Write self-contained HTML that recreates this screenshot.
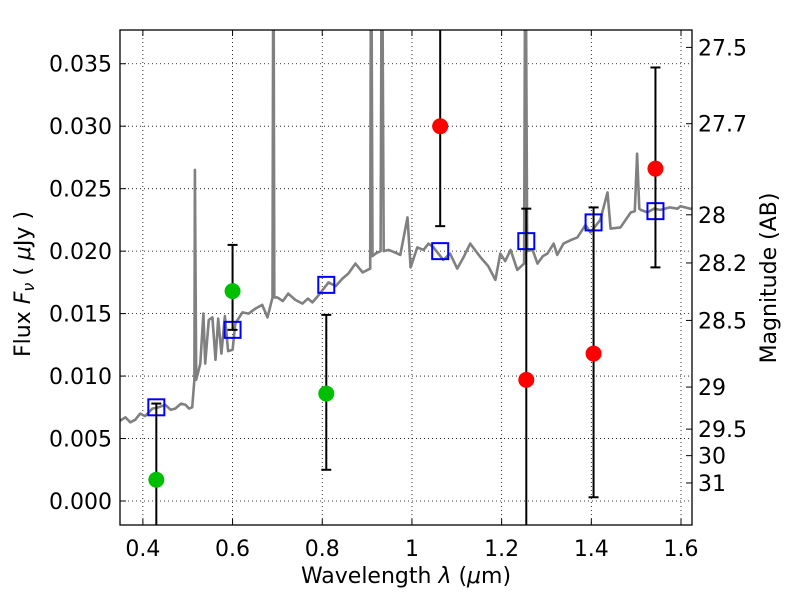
<!DOCTYPE html>
<html><head><meta charset="utf-8"><style>
body{margin:0;background:#fff;}
svg{display:block;font-family:"DejaVu Sans","Liberation Sans",sans-serif;}
</style></head><body>
<svg id="chart" width="800" height="600" viewBox="0 0 800 600" xmlns="http://www.w3.org/2000/svg">
<rect width="800" height="600" fill="#fff"/>
<defs><clipPath id="clip"><rect x="120" y="30" width="572" height="495"/></clipPath></defs>
<g id="grid"></g>
<g id="plot" clip-path="url(#clip)"></g>
<rect x="120" y="30" width="572" height="495" fill="none" stroke="#000" stroke-width="1.3"/>
<g id="ticks"></g>
<text x="406" y="583" font-size="22" text-anchor="middle">Wavelength  <tspan font-style="italic">λ</tspan> (<tspan font-style="italic">μ</tspan>m)</text>
<text transform="translate(30,284) rotate(-90)" font-size="22" text-anchor="middle">Flux  <tspan font-style="italic">F<tspan font-size="16" dy="4">ν</tspan></tspan><tspan dy="-4">   (  </tspan><tspan font-style="italic">μ</tspan>Jy )</text>
<text transform="translate(776,278) rotate(-90)" font-size="22" text-anchor="middle">Magnitude (AB)</text>
</svg>
<script>
const xTicks=[0.4,0.6,0.8,1.0,1.2,1.4,1.6];
const xTickLabels=["0.4","0.6","0.8","1","1.2","1.4","1.6"];
const yTicks=[0,0.005,0.01,0.015,0.02,0.025,0.03,0.035];
const yTickLabels=["0.000","0.005","0.010","0.015","0.020","0.025","0.030","0.035"];
const magTicks=[27.5,27.7,28,28.2,28.5,29,29.5,30,31];
const magTickLabels=["27.5","27.7","28","28.2","28.5","29","29.5","30","31"];
const specWave=[0.339,0.361,0.372,0.383,0.394,0.405,0.421,0.435,0.450,0.462,0.472,0.485,0.495,0.503,0.510,0.515,0.516,0.519,0.528,0.535,0.539,0.547,0.555,0.562,0.568,0.575,0.583,0.590,0.600,0.606,0.622,0.636,0.651,0.666,0.678,0.689,0.691,0.693,0.700,0.712,0.724,0.740,0.756,0.768,0.778,0.790,0.801,0.814,0.830,0.845,0.858,0.874,0.890,0.907,0.909,0.912,0.919,0.930,0.933,0.937,0.948,0.962,0.974,0.990,0.997,1.012,1.026,1.037,1.048,1.070,1.085,1.101,1.115,1.130,1.153,1.170,1.186,1.197,1.208,1.220,1.235,1.250,1.253,1.257,1.269,1.280,1.292,1.302,1.316,1.324,1.338,1.355,1.369,1.387,1.398,1.420,1.436,1.443,1.465,1.488,1.497,1.502,1.507,1.510,1.525,1.540,1.554,1.575,1.592,1.599,1.621,1.64];
const specFlux=[0.0062,0.0067,0.0063,0.0065,0.0070,0.0068,0.0074,0.0075,0.0077,0.0073,0.0074,0.0078,0.0077,0.0074,0.0075,0.0097,0.0265,0.0097,0.0110,0.0150,0.0110,0.0145,0.0147,0.0113,0.0146,0.0118,0.0148,0.0120,0.0121,0.0142,0.0151,0.0150,0.0154,0.0157,0.0147,0.0163,0.05,0.0163,0.0163,0.0160,0.0166,0.0161,0.0158,0.0162,0.0159,0.0164,0.0169,0.0175,0.0172,0.0178,0.0182,0.0190,0.0183,0.0186,0.05,0.0196,0.0198,0.0200,0.05,0.0200,0.0201,0.0199,0.0197,0.0227,0.0187,0.0203,0.0201,0.0206,0.0203,0.0193,0.0198,0.0186,0.0195,0.0206,0.0195,0.0188,0.0177,0.0198,0.0192,0.0201,0.0185,0.0190,0.05,0.0200,0.0201,0.0190,0.0196,0.0198,0.0206,0.0197,0.0206,0.0209,0.0211,0.0221,0.0215,0.0225,0.0247,0.0218,0.0219,0.0231,0.0232,0.0278,0.0234,0.0233,0.0231,0.0234,0.0233,0.0235,0.0234,0.0236,0.0234,0.0234];
const modelWave=[0.430,0.600,0.809,1.063,1.255,1.405,1.543];
const modelFlux=[0.0075,0.0137,0.0173,0.0200,0.0208,0.0223,0.0232];
const greenWave=[0.430,0.600,0.809];
const greenFlux=[0.0017,0.0168,0.0086];
const greenHi=[0.0078,0.0205,0.0149];
const greenLo=[-0.01,0.0137,0.0025];
const redWave=[1.063,1.255,1.405,1.543];
const redFlux=[0.0300,0.0097,0.0118,0.0266];
const redHi=[0.06,0.0234,0.0235,0.0347];
const redLo=[0.0220,-0.01,0.0003,0.0187];

const X0=0.349,X1=1.6245,Y0=-0.00192,Y1=0.0377;
const L=120,R=692,T=30,B=525;
function sx(v){return L+(v-X0)/(X1-X0)*(R-L);}
function sy(v){return B-(v-Y0)/(Y1-Y0)*(B-T);}
function magToFlux(m){return Math.pow(10,(23.9-m)/2.5);}
const NS="http://www.w3.org/2000/svg";
function mk(tag,attrs,parent){const e=document.createElementNS(NS,tag);for(const k in attrs)e.setAttribute(k,attrs[k]);parent.appendChild(e);return e;}
const grid=document.getElementById('grid'),plot=document.getElementById('plot'),ticks=document.getElementById('ticks');

xTicks.forEach((t,i)=>{
  const x=sx(t);
  const g=mk('line',{x1:x,x2:x,y1:T,y2:B,stroke:'#000','stroke-width':0.8,'stroke-dasharray':'1,3'},grid);
  
  
  mk('line',{x1:x,x2:x,y1:B,y2:B-6,stroke:'#000','stroke-width':1},ticks);
  mk('line',{x1:x,x2:x,y1:T,y2:T+6,stroke:'#000','stroke-width':1},ticks);
  const tx=mk('text',{x:x,y:B+31,'font-size':22,'text-anchor':'middle'},ticks);
  tx.textContent=xTickLabels[i];
  
  
});
yTicks.forEach((t,i)=>{
  const y=sy(t);
  const g=mk('line',{x1:L,x2:R,y1:y,y2:y,stroke:'#000','stroke-width':0.8,'stroke-dasharray':'1,3'},grid);
  
  
  mk('line',{x1:L,x2:L+6,y1:y,y2:y,stroke:'#000','stroke-width':1},ticks);
  const tx=mk('text',{x:L-8,y:y+8,'font-size':22,'text-anchor':'end'},ticks);
  tx.textContent=yTickLabels[i];
  
  
});
magTicks.forEach((m,i)=>{
  const y=sy(magToFlux(m));
  mk('line',{x1:R,x2:R-6,y1:y,y2:y,stroke:'#000','stroke-width':1},ticks);
  const tx=mk('text',{x:R+6,y:y+8,'font-size':22,'text-anchor':'start'},ticks);
  tx.textContent=magTickLabels[i];
  
  
});

const pts=specWave.map((w,i)=>sx(w).toFixed(1)+','+sy(specFlux[i]).toFixed(1)).join(' ');
const sp=mk('polyline',{points:pts,fill:'none',stroke:'#808080','stroke-width':2.6,'stroke-linejoin':'round'},plot);



function errbar(w,lo,hi,name){
  const x=sx(w);
  const l=mk('line',{x1:x,x2:x,y1:sy(lo),y2:sy(hi),stroke:'#000','stroke-width':2},plot);
  
  
  [lo,hi].forEach(v=>{if(v>Y0&&v<Y1)mk('line',{x1:x-5,x2:x+5,y1:sy(v),y2:sy(v),stroke:'#000','stroke-width':2},plot);});
}
modelWave.forEach((w,i)=>{
  const r=mk('rect',{x:sx(w)-8,y:sy(modelFlux[i])-8,width:16,height:16,fill:'none',stroke:'#0000ff','stroke-width':2},plot);
  
  
});
greenWave.forEach((w,i)=>{
  errbar(w,greenLo[i],greenHi[i],'green-error-bar');
  const c=mk('circle',{cx:sx(w),cy:sy(greenFlux[i]),r:8,fill:'#00bf00'},plot);
  
  
});
redWave.forEach((w,i)=>{
  errbar(w,redLo[i],redHi[i],'red-error-bar');
  const c=mk('circle',{cx:sx(w),cy:sy(redFlux[i]),r:8,fill:'#ff0000'},plot);
  
  
});
</script>
</body></html>
